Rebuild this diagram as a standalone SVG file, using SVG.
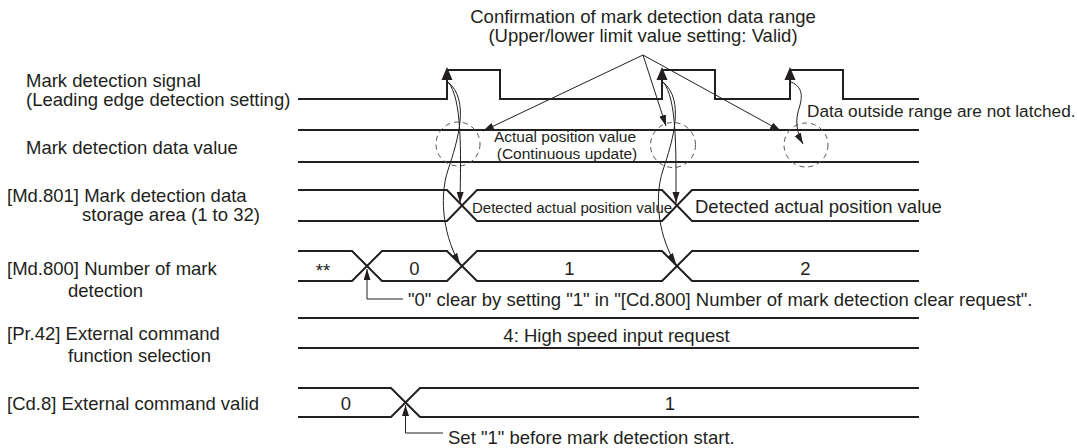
<svg xmlns="http://www.w3.org/2000/svg" width="1077" height="448" viewBox="0 0 1077 448">
<style>
text { font-family: "Liberation Sans", Arial, sans-serif; fill: #231f20; }
.t { font-size: 18.5px; }
.m { text-anchor: middle; }
.sig { fill: none; stroke: #231f20; stroke-width: 2; }
.conn { fill: none; stroke: #231f20; stroke-width: 1; }
.dash { fill: none; stroke: #555; stroke-width: 1; stroke-dasharray: 5 4; }
.head { fill: #231f20; }
</style>
<defs>
<marker id="arr" markerUnits="userSpaceOnUse" markerWidth="12" markerHeight="8" refX="11" refY="3.5" orient="auto">
<path d="M0,0 L11,3.5 L0,7 z" fill="#231f20"/>
</marker>
</defs>
<rect width="1077" height="448" fill="#fff"/>

<g id="title">
<text class="t m" x="643" y="23">Confirmation of mark detection data range</text>
<text class="t m" x="643" y="42">(Upper/lower limit value setting: Valid)</text>
</g>

<g id="row-signal">
<text class="t" x="26" y="87">Mark detection signal</text>
<text class="t" x="26" y="106">(Leading edge detection setting)</text>
<path class="sig" d="M298,99 H447 V70 H500 V99 H662 V70 H715 V99 H790 V70 H843 V99 H919"/>
<path class="head" d="M447,67 L441.5,80 L452.5,80 z"/>
<path class="head" d="M662,67 L656.5,80 L667.5,80 z"/>
<path class="head" d="M790,67 L784.5,80 L795.5,80 z"/>
</g>

<g id="row-data-value">
<text class="t" x="26" y="154">Mark detection data value</text>
<path class="sig" d="M298,130 H919 M298,162 H919"/>
<text class="m" x="565" y="141.5" font-size="15.5">Actual position value</text>
<text class="m" x="567" y="158.5" font-size="15.5">(Continuous update)</text>
<circle class="dash" cx="458" cy="144" r="22"/>
<circle class="dash" cx="673" cy="145" r="22.5"/>
<circle class="dash" cx="806" cy="145" r="22"/>
<text x="807" y="116.5" font-size="17.2">Data outside range are not latched.</text>
</g>

<g id="row-md801">
<text class="t" x="7" y="202">[Md.801] Mark detection data</text>
<text class="t" x="82" y="221">storage area (1 to 32)</text>
<path class="sig" d="M298,190 H447 L477,221 H662 L692,190 H919"/>
<path class="sig" d="M298,221 H447 L477,190 H662 L692,221 H919"/>
<text x="472" y="213" font-size="15">Detected actual position value</text>
<text class="t" x="695" y="213">Detected actual position value</text>
</g>

<g id="row-md800">
<text class="t" x="7" y="275">[Md.800] Number of mark</text>
<text class="t" x="68" y="297">detection</text>
<path class="sig" d="M298,251 H352 L382,281 H447 L477,251 H662 L692,281 H919"/>
<path class="sig" d="M298,281 H352 L382,251 H447 L477,281 H662 L692,251 H919"/>
<text class="t m" x="323" y="277">**</text>
<text class="t m" x="414.5" y="275">0</text>
<text class="t m" x="569.5" y="275">1</text>
<text class="t m" x="805.5" y="275">2</text>
<text class="t" x="408" y="305.5">"0" clear by setting "1" in "[Cd.800] Number of mark detection clear request".</text>
</g>

<g id="row-pr42">
<text class="t" x="7" y="340">[Pr.42] External command</text>
<text class="t" x="68" y="361.5">function selection</text>
<path class="sig" d="M298,318 H919 M298,348 H919"/>
<text class="t m" x="616.5" y="342">4: High speed input request</text>
</g>

<g id="row-cd8">
<text class="t" x="7" y="410">[Cd.8] External command valid</text>
<path class="sig" d="M298,388 H391 L420,417 H919"/>
<path class="sig" d="M298,417 H391 L420,388 H919"/>
<text class="t m" x="346" y="410">0</text>
<text class="t m" x="670" y="410">1</text>
<text class="t" x="448" y="443.5">Set "1" before mark detection start.</text>
</g>

<g id="connectors">
<path class="conn" marker-end="url(#arr)" d="M643,55 L483,131"/>
<path class="conn" marker-end="url(#arr)" d="M643,55 L666,126"/>
<path class="conn" marker-end="url(#arr)" d="M643,55 L781,131"/>
<path class="conn" marker-end="url(#arr)" d="M448,82 C462,98 461,150 460,203"/>
<path class="conn" marker-end="url(#arr)" d="M448,82 C470,100 458,140 448,170 C438,200 445,240 460,264"/>
<path class="conn" marker-end="url(#arr)" d="M663,82 C677,98 676,150 676,203"/>
<path class="conn" marker-end="url(#arr)" d="M663,82 C685,100 673,140 663,170 C653,200 660,240 676,264"/>
<path class="conn" marker-end="url(#arr)" d="M791,82 C806,88 801,102 798,112 C795,124 798,135 803,144"/>
<path class="conn" marker-end="url(#arr)" d="M403,299 H367 V269"/>
<path class="conn" marker-end="url(#arr)" d="M443,433 H405.5 V405"/>
</g>
</svg>
